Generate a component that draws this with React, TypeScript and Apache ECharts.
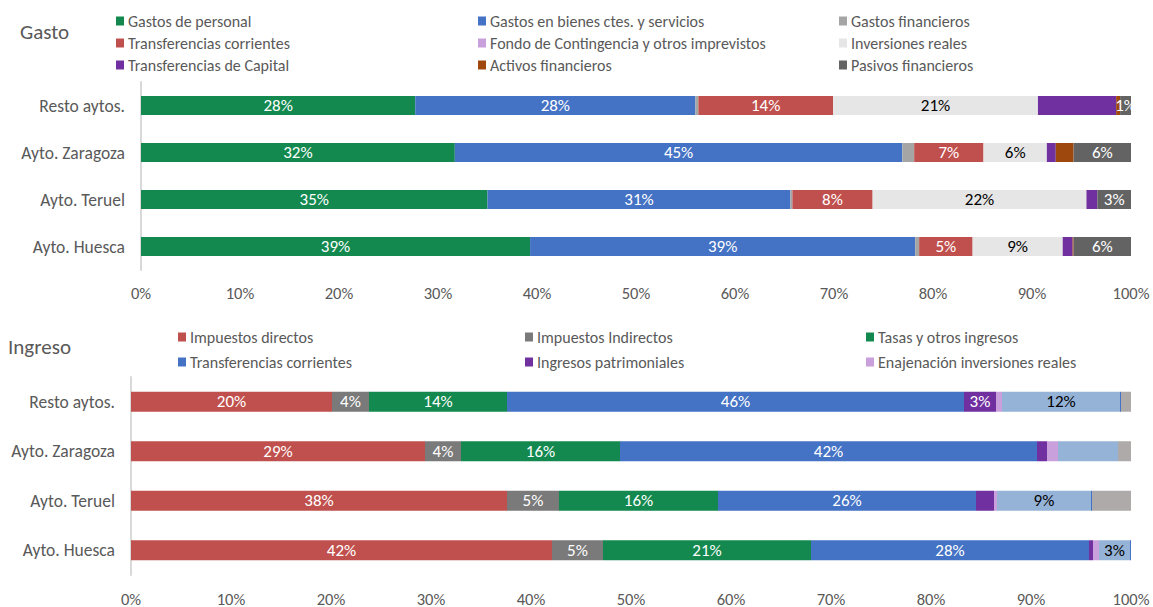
import React, { useEffect, useRef } from "react";
import * as echarts from "echarts";

const categories = ["Resto aytos.", "Ayto. Zaragoza", "Ayto. Teruel", "Ayto. Huesca"];
const xTicks = [0, 10, 20, 30, 40, 50, 60, 70, 80, 90, 100];

// Gasto (percent of total), order: Resto, Zaragoza, Teruel, Huesca
const gastoNames = [
  "Gastos de personal",
  "Gastos en bienes ctes. y servicios",
  "Gastos financieros",
  "Transferencias corrientes",
  "Fondo de Contingencia y otros imprevistos",
  "Inversiones reales",
  "Transferencias de Capital",
  "Activos financieros",
  "Pasivos financieros",
];
const gastoColors = ["#13894F", "#4472C4", "#A5A5A5", "#C0504D", "#C9A0DC", "#E6E6E6", "#7030A0", "#9E480E", "#636363"];
const gPersonal = [27.7, 31.7, 35.0, 39.3];
const gBienes = [28.3, 45.2, 30.6, 38.9];
const gFinancieros = [0.3, 1.2, 0.2, 0.4];
const gTransfCorr = [13.6, 7.0, 8.1, 5.4];
const gFondo = [0, 0, 0, 0];
const gInversiones = [20.7, 6.4, 21.6, 9.1];
const gTransfCap = [7.9, 0.9, 1.1, 1.0];
const gActivos = [0.4, 1.8, 0, 0.1];
const gPasivos = [1.1, 5.8, 3.4, 5.8];
const gastoValues = [gPersonal, gBienes, gFinancieros, gTransfCorr, gFondo, gInversiones, gTransfCap, gActivos, gPasivos];
const gastoLabelShown = [
  [true, true, true, true],
  [true, true, true, true],
  [false, false, false, false],
  [true, true, true, true],
  [false, false, false, false],
  [true, true, true, true],
  [false, false, false, false],
  [false, false, false, false],
  [true, true, true, true],
];
const gastoLabelDark = [false, false, false, false, false, true, false, false, false];

// Ingreso
const ingresoNames = [
  "Impuestos directos",
  "Impuestos Indirectos",
  "Tasas y otros ingresos",
  "Transferencias corrientes",
  "Ingresos patrimoniales",
  "Enajenación inversiones reales",
  "Activos financieros",
  "Variación de activos",
  "Pasivos financieros",
];
const ingresoColors = ["#C0504D", "#7A7A7A", "#13894F", "#4472C4", "#7030A0", "#C9A0DC", "#95B3D7", "#4472C4", "#AEAAAA"];
const iDirectos = [20.1, 29.4, 37.6, 42.1];
const iIndirectos = [3.7, 3.6, 5.2, 5.1];
const iTasas = [13.8, 15.9, 15.9, 20.8];
const iTransfCorr = [45.7, 41.7, 25.8, 27.8];
const iPatrimoniales = [3.2, 1.0, 1.8, 0.4];
const iEnajenacion = [0.6, 1.1, 0.3, 0.6];
const iActivos = [11.8, 6.0, 9.4, 3.1];
const iVariacion = [0.1, 0, 0.1, 0.1];
const iPasivos = [1.0, 1.3, 3.9, 0];
const ingresoValues = [iDirectos, iIndirectos, iTasas, iTransfCorr, iPatrimoniales, iEnajenacion, iActivos, iVariacion, iPasivos];
const ingresoLabelShown = [
  [true, true, true, true],
  [true, true, true, true],
  [true, true, true, true],
  [true, true, true, true],
  [true, false, false, false],
  [false, false, false, false],
  [true, false, true, true],
  [false, false, false, false],
  [false, false, false, false],
];
const ingresoLabelDark = [false, false, false, false, false, false, true, false, false];

const FONT = 'Carlito, Calibri, "Open Sans", sans-serif';
const TXT = "#595959";

function buildSeries(names: string[], colors: string[], values: number[][], shown: boolean[][], dark: boolean[], axisIndex: number, barWidth: number) {
  return names.map((name, si) => ({
    type: "bar",
    name,
    stack: "s" + axisIndex,
    xAxisIndex: axisIndex,
    yAxisIndex: axisIndex,
    barWidth,
    itemStyle: { color: colors[si] },
    data: values[si].map((v, ci) => ({
      value: v,
      label: {
        show: shown[si][ci],
        position: "inside",
        formatter: (p: any) => Math.round(p.value) + "%",
        color: dark[si] ? "#000000" : "#FFFFFF",
        fontSize: 17,
        fontFamily: FONT,
      },
    })),
  }));
}

function legendCol(names: string[], colors: string[], allNames: string[], left: number, top: number, gap: number) {
  return {
    orient: "vertical",
    left,
    top,
    padding: 0,
    itemWidth: 8,
    itemHeight: 9,
    itemGap: gap,
    icon: "rect",
    selectedMode: false,
    textStyle: { color: TXT, fontSize: 16, fontFamily: FONT, lineHeight: 16, padding: [0, 0, 0, -1] },
    data: names.map((n) => ({ name: n, itemStyle: { color: colors[allNames.indexOf(n)] } })),
  };
}

export default function App() {
  const ref = useRef<HTMLDivElement>(null);
  useEffect(() => {
    document.body.style.margin = "0";
    const chart = echarts.init(ref.current!, null, { renderer: "svg" });
    const xAxisBase = (gridIndex: number, margin: number) => ({
      type: "value",
      gridIndex,
      min: xTicks[0],
      max: xTicks[xTicks.length - 1],
      interval: xTicks[1] - xTicks[0],
      axisLine: { show: false },
      axisTick: { show: false },
      splitLine: { show: false },
      axisLabel: { formatter: "{value}%", color: TXT, fontSize: 16.5, fontFamily: FONT, margin },
    });
    const yAxisBase = (gridIndex: number) => ({
      type: "category",
      gridIndex,
      inverse: true,
      data: categories,
      axisLine: { show: true, lineStyle: { color: "#D9D9D9", width: 2 } },
      axisTick: { show: false },
      axisLabel: { color: TXT, fontSize: 17.5, fontFamily: FONT, margin: 16 },
    });
    chart.setOption({
      animation: false,
      title: [
        { text: "Gasto", left: 15, top: 16, textStyle: { color: TXT, fontSize: 21, fontWeight: "normal", fontFamily: FONT } },
        { text: "Ingreso", left: 3, top: 331, textStyle: { color: TXT, fontSize: 21, fontWeight: "normal", fontFamily: FONT } },
      ],
      legend: [
        legendCol([gastoNames[0], gastoNames[3], gastoNames[6]], gastoColors, gastoNames, 116, 13, 6),
        legendCol([gastoNames[1], gastoNames[4], gastoNames[7]], gastoColors, gastoNames, 478, 13, 6),
        legendCol([gastoNames[2], gastoNames[5], gastoNames[8]], gastoColors, gastoNames, 839, 13, 6),
        legendCol([ingresoNames[0], ingresoNames[3]], ingresoColors, ingresoNames, 178, 329, 9),
        legendCol([ingresoNames[1], ingresoNames[4]], ingresoColors, ingresoNames, 525, 329, 9),
        legendCol([ingresoNames[2], ingresoNames[5]], ingresoColors, ingresoNames, 866, 329, 9),
      ],
      grid: [
        { left: 141, right: 22, top: 82, height: 188 },
        { left: 131, right: 22, top: 377, height: 200 },
      ],
      xAxis: [xAxisBase(0, 14), xAxisBase(1, 15)],
      yAxis: [yAxisBase(0), yAxisBase(1)],
      series: [
        ...buildSeries(gastoNames, gastoColors, gastoValues, gastoLabelShown, gastoLabelDark, 0, 19),
        ...buildSeries(ingresoNames, ingresoColors, ingresoValues, ingresoLabelShown, ingresoLabelDark, 1, 20),
      ],
    });
    return () => chart.dispose();
  }, []);
  return <div ref={ref} style={{ width: 1153, height: 607 }} />;
}
